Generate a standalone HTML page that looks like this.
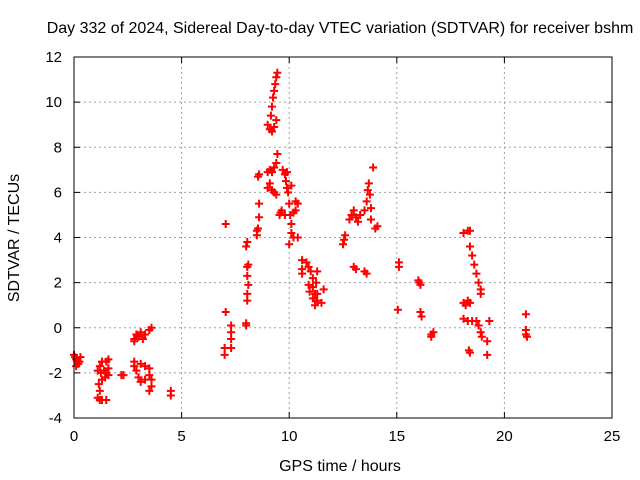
<!DOCTYPE html>
<html><head><meta charset="utf-8"><style>
body{margin:0;background:#fff}
svg{display:block;font-family:"Liberation Sans",sans-serif}
</style></head><body>
<svg id="chart" width="640" height="480">
<rect width="640" height="480" fill="#fff"/>
<text x="340" y="33" font-size="16" text-anchor="middle">Day 332 of 2024, Sidereal Day-to-day VTEC variation (SDTVAR) for receiver bshm</text>
<text x="340" y="471" font-size="16" text-anchor="middle">GPS time / hours</text>
<text x="19" y="238" font-size="16" text-anchor="middle" transform="rotate(-90 19 238)">SDTVAR / TECUs</text>
<g id="grid"></g>
<g id="ticks"></g>
<g id="points"></g>
<rect x="74" y="57" width="538" height="361" fill="none" stroke="#000" stroke-width="1"/>
</svg>
<script>
const xTicks=[0,5,10,15,20,25];
const yTicks=[-4,-2,0,2,4,6,8,10,12];
const hours=[0,0.05,0.1,0.15,0.2,0.25,0.1,0.3,
1.1,1.2,1.3,1.5,1.2,1.15,1.3,1.1,1.2,1.25,1.4,1.5,1.6,1.5,1.3,1.6,1.45,1.6,
2.3,2.2,
2.8,2.9,3.0,3.1,3.2,3.3,3.5,3.6,2.8,
2.8,2.9,3.0,3.1,3.3,3.5,3.6,3.5,3.3,3.1,2.8,3.6,3.5,
4.5,4.5,
7.0,7.0,7.05,7.05,7.3,7.3,7.3,7.3,
8.0,8.0,8.05,8.05,8.1,8.05,8.05,8.1,8.0,8.05,
8.5,8.55,8.6,8.5,8.6,8.55,8.6,
9.0,9.1,9.15,9.2,9.25,9.3,9.35,9.4,9.45,9.3,9.2,9.4,9.0,9.1,9.2,9.3,9.4,9.45,9.0,9.1,9.2,9.3,9.4,9.6,9.65,9.55,
9.7,9.8,9.85,9.9,9.95,10.0,10.05,10.1,10.1,10.0,10.2,10.4,10.2,10.3,10.4,9.9,10.1,10.3,9.8,
10.6,10.6,10.6,10.8,10.9,11.0,11.1,10.9,10.95,11.1,11.2,11.3,11.3,11.25,11.3,11.5,11.6,11.1,11.2,
12.5,12.55,12.6,12.8,12.9,13.0,13.1,13.2,13.3,13.5,13.6,13.65,13.7,13.75,13.8,13.8,14.0,14.1,13.9,13.0,13.1,13.5,13.6,
15.1,15.1,15.05,
16.0,16.05,16.1,16.1,16.15,16.6,16.6,16.7,
18.1,18.3,18.4,18.4,18.5,18.6,18.7,18.8,18.9,18.9,18.1,18.2,18.3,18.4,18.1,18.3,18.5,18.7,18.8,18.9,18.95,18.35,18.4,19.2,19.2,19.3,
21.0,21.0,21.05,21.0];
const values=[-1.2,-1.3,-1.4,-1.5,-1.6,-1.5,-1.7,-1.3,
-3.1,-3.2,-3.2,-3.2,-2.8,-2.5,-2.3,-1.9,-1.7,-2.0,-1.9,-2.0,-1.8,-1.5,-1.5,-1.4,-2.2,-2.1,
-2.1,-2.1,
-0.5,-0.3,-0.4,-0.2,-0.5,-0.3,-0.1,0.0,-0.6,
-1.7,-1.9,-2.2,-2.4,-2.3,-2.1,-2.6,-1.8,-1.7,-1.6,-1.5,-2.3,-2.8,
-2.8,-3.0,
-0.9,-1.2,0.7,4.6,-0.5,-0.9,-0.2,0.1,
0.1,0.2,1.2,1.5,1.9,2.3,2.7,2.8,3.6,3.8,
4.1,4.4,4.9,4.3,5.5,6.7,6.8,
9.0,8.8,9.4,9.8,10.2,10.5,10.8,11.1,11.3,8.9,8.7,9.2,6.9,7.0,6.9,7.1,7.3,7.7,6.2,6.4,6.1,6.0,5.9,5.1,5.2,5.0,
7.0,6.8,6.5,6.2,6.0,5.5,5.0,4.6,4.2,3.7,4.0,4.0,5.1,5.6,5.5,6.9,6.3,5.2,5.0,
3.0,2.6,2.4,2.9,2.7,2.5,2.2,1.9,1.6,1.3,1.0,1.2,1.5,2.0,2.5,1.1,1.7,1.8,1.5,
3.7,3.9,4.1,4.8,5.0,5.2,4.9,4.7,5.0,5.2,5.6,6.1,6.4,5.9,5.3,4.8,4.4,4.5,7.1,2.7,2.6,2.5,2.4,
2.9,2.7,0.8,
2.1,2.0,1.9,0.7,0.5,-0.3,-0.4,-0.2,
4.2,4.3,4.3,3.6,3.2,2.8,2.4,2.0,1.7,1.5,1.1,1.0,1.2,1.1,0.4,0.3,0.3,0.3,0.1,-0.2,-0.4,-1.0,-1.1,-0.6,-1.2,0.3,
0.6,-0.3,-0.4,-0.1];
const NS='http://www.w3.org/2000/svg';
const X0=74,X1=612,Y0=418,Y1=57;
function xs(h){return X0+(h-0)/(25-0)*(X1-X0);}
function ys(v){return Y0-(v+4)/(12+4)*(Y0-Y1);}
function mk(tag,attrs,parent){const e=document.createElementNS(NS,tag);for(const k in attrs)e.setAttribute(k,attrs[k]);parent.appendChild(e);return e;}
const grid=document.getElementById('grid'),ticks=document.getElementById('ticks'),pts=document.getElementById('points');
xTicks.forEach(t=>{const x=xs(t);
 if(t>0&&t<25){const g=mk('line',{x1:x,x2:x,y1:Y1,y2:Y0,stroke:'#a0a0a0','stroke-dasharray':'2,3'},grid);
 
 }
 const a=mk('line',{x1:x,x2:x,y1:Y0,y2:Y0-6,stroke:'#000'},ticks);
 
 
 const b=mk('line',{x1:x,x2:x,y1:Y1,y2:Y1+6,stroke:'#000'},ticks);
 
 
 const l=mk('text',{x:x,y:Y0+23,'font-size':15,'text-anchor':'middle'},ticks);l.textContent=t;
 
 
});
yTicks.forEach(t=>{const y=ys(t);
 if(t>-4&&t<12){const g=mk('line',{x1:X0,x2:X1,y1:y,y2:y,stroke:'#a0a0a0','stroke-dasharray':'2,3'},grid);
 
 }
 const a=mk('line',{x1:X0,x2:X0+6,y1:y,y2:y,stroke:'#000'},ticks);
 
 
 const b=mk('line',{x1:X1,x2:X1-6,y1:y,y2:y,stroke:'#000'},ticks);
 
 
 const l=mk('text',{x:X0-12,y:y+5,'font-size':15,'text-anchor':'end'},ticks);l.textContent=t;
 
 
});
hours.forEach((h,i)=>{const x=xs(h),y=ys(values[i]);
 const p=mk('path',{d:`M${x-4},${y}H${x+4}M${x},${y-4}V${y+4}`,stroke:'#f00','stroke-width':2,fill:'none'},pts);
 
 
});
</script>
</body></html>
